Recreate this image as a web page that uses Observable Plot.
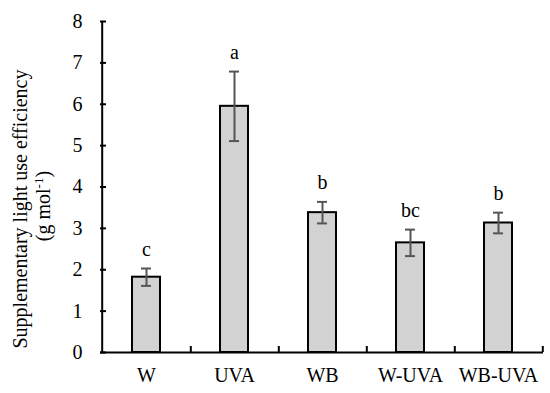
<!DOCTYPE html>
<html>
<head>
<meta charset="utf-8">
<script src="https://cdn.jsdelivr.net/npm/d3@7"></script>
<script src="https://cdn.jsdelivr.net/npm/@observablehq/plot@0.6"></script>
<style>
  body { margin: 0; background: #fff; }
</style>
</head>
<body>
<div id="chart"></div>
<script>
const categories = ["W", "UVA", "WB", "W-UVA", "WB-UVA"];
const means = [1.82, 5.95, 3.38, 2.65, 3.13];
const errors = [0.21, 0.84, 0.26, 0.32, 0.25];
const letters = ["c", "a", "b", "bc", "b"];
const yTicks = [0, 1, 2, 3, 4, 5, 6, 7, 8];
const yLabelLine1 = "Supplementary light use efficiency";
const yLabelLine2 = "(g mol-1)";

const data = categories.map((c, i) => ({
  cat: c, mean: means[i], lo: means[i] - errors[i], hi: means[i] + errors[i], letter: letters[i]
}));

const W = 550, H = 393;
const mL = 100, mR = 7, mT = 21, mB = 41;
const frameW = W - mL - mR;
const frameH = H - mT - mB;
const band = frameW / categories.length;
const FS = 20;

const chart = Plot.plot({
  width: W,
  height: H,
  marginLeft: mL,
  marginRight: mR,
  marginTop: mT,
  marginBottom: mB,
  style: {fontFamily: "'Liberation Serif', 'Times New Roman', serif", fontSize: FS + "px", color: "#000", background: "#fff"},
  x: {domain: categories, padding: 0, label: null},
  y: {domain: [0, 8], label: null},
  marks: [
    Plot.barY(data, {x: "cat", y: "mean", fill: "#d2d2d2", stroke: "#000", strokeWidth: 2, insetLeft: 30, insetRight: 30}),
    Plot.ruleX(data, {x: "cat", y1: "lo", y2: "hi", stroke: "#555", strokeWidth: 2}),
    Plot.tickY(data, {x: "cat", y: "lo", stroke: "#555", strokeWidth: 2, insetLeft: 39, insetRight: 39}),
    Plot.tickY(data, {x: "cat", y: "hi", stroke: "#555", strokeWidth: 2, insetLeft: 39, insetRight: 39}),
    Plot.text(data, {x: "cat", y: "hi", text: "letter", lineAnchor: "bottom", dy: -13, fill: "#000", fontSize: FS}),
    // y ticks pointing inward
    Plot.ruleY(yTicks, {y: d => d, stroke: "#000", strokeWidth: 2, insetRight: frameW - 6}),
    // x ticks at band boundaries pointing up
    Plot.ruleX(categories, {x: d => d, dx: band / 2, stroke: "#000", strokeWidth: 2, insetTop: frameH - 6}),
    Plot.axisY({ticks: yTicks, tickSize: 0, tickPadding: 18, fontSize: FS, tickFormat: d => d}),
    Plot.axisX({tickSize: 0, tickPadding: 15, fontSize: FS}),
    // axis lines
    Plot.ruleY([0], {stroke: "#000", strokeWidth: 2}),
    Plot.ruleX([categories[0]], {x: d => d, dx: -band / 2, stroke: "#000", strokeWidth: 2}),
    Plot.text([yLabelLine1], {frameAnchor: "left", text: d => d, rotate: -90, textAnchor: "middle", dx: -80, dy: 22, fontSize: FS, fill: "#000"}),
    Plot.text([yLabelLine2], {frameAnchor: "left", text: d => d, rotate: -90, textAnchor: "middle", dx: -57, dy: 19, fontSize: FS, fill: "#000"})
  ]
});

document.getElementById("chart").appendChild(chart);

// superscript for the unit
d3.select(chart).selectAll("text").each(function() {
  const t = d3.select(this);
  if (t.text() === yLabelLine2) {
    t.text(null);
    t.append("tspan").text("(g mol");
    t.append("tspan").attr("font-size", "13px").attr("baseline-shift", "super").text("-1");
    t.append("tspan").text(")");
  }
});
</script>
</body>
</html>
